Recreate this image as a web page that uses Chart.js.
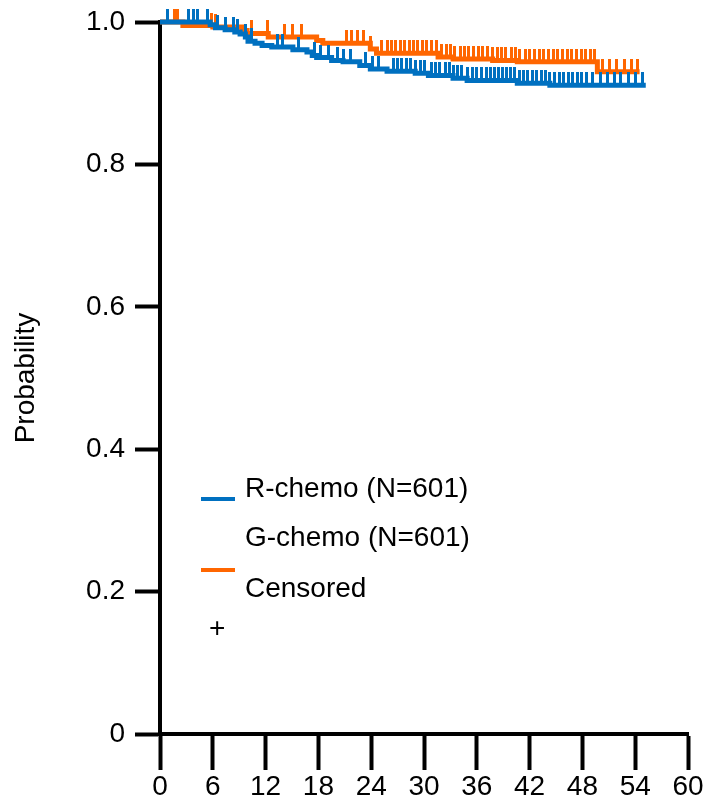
<!DOCTYPE html>
<html>
<head>
<meta charset="utf-8">
<script src="https://cdn.jsdelivr.net/npm/chart.js@4"></script>
<style>
  body { margin: 0; background: #fff; }
  #wrap { position: relative; width: 711px; height: 803px; }
  .lg { position: absolute; font: 28px "Liberation Sans", Arial, sans-serif; line-height: 28px; color: #000; white-space: nowrap; }
  .sw { position: absolute; width: 34px; height: 4px; }
</style>
</head>
<body>
<div id="wrap">
  <canvas id="km"></canvas>
  <div class="sw" style="left:201px; top:497px; background:#0070C0"></div>
  <div class="lg" style="left:245px; top:474px">R-chemo (N=601)</div>
  <div class="lg" style="left:245px; top:523px">G-chemo (N=601)</div>
  <div class="sw" style="left:201px; top:568px; background:#FF6600"></div>
  <div class="lg" style="left:245px; top:574px">Censored</div>
  <div class="lg" style="left:209px; top:614px">+</div>
</div>
<script>
// months on x, probability on y
const xTicks = [0, 6, 12, 18, 24, 30, 36, 42, 48, 54, 60]
const yTicks = [0, 0.2, 0.4, 0.6, 0.8, 1.0]

// R-chemo step curve
const rTimes = [0, 5.7, 6.3, 7.4, 8.5, 9.1, 9.7, 10.0, 10.8, 11.6, 12.7, 15.1, 16.7, 17.3, 17.8, 19.5, 20.8, 22.7, 23.9, 25.8, 29.0, 30.5, 33.3, 34.9, 40.6, 44.3, 55.2]
const rSurv  = [1.000, 0.996, 0.992, 0.989, 0.986, 0.983, 0.979, 0.973, 0.970, 0.967, 0.965, 0.961, 0.958, 0.953, 0.950, 0.946, 0.944, 0.939, 0.934, 0.931, 0.928, 0.925, 0.921, 0.918, 0.914, 0.911, 0.911]
const rCensor = [0.8, 3.2, 3.8, 4.3, 5.4, 6.5, 7.4, 8.3, 8.8, 9.7, 10.4, 13.4, 13.9, 15.7, 17.6, 18.2, 19.1, 20.2, 20.8, 21.6, 23.3, 24.2, 24.8,
  26.5, 27.0, 27.4, 28.0, 28.5, 29.0, 29.6, 30.1, 30.8, 31.3, 31.8, 32.4, 32.9, 33.4, 33.8, 34.3, 34.9, 35.5, 36.0, 36.5, 37.1, 37.6, 38.0,
  38.5, 38.9, 39.4, 39.8, 40.3, 40.8, 41.3, 41.8, 42.3, 42.8, 43.3, 43.8, 44.3, 44.8, 45.4, 45.9, 46.4, 46.9, 47.4, 47.9, 48.5, 49.1,
  50.0, 50.8, 51.6, 52.3, 53.2, 54.0, 54.8]

// G-chemo step curve
const gTimes = [0, 2.6, 6.0, 9.3, 9.9, 12.3, 17.8, 18.5, 23.9, 24.6, 31.6, 33.3, 37.8, 40.6, 49.7, 54.5]
const gSurv  = [1.000, 0.995, 0.993, 0.988, 0.984, 0.979, 0.974, 0.970, 0.962, 0.956, 0.951, 0.948, 0.946, 0.944, 0.930, 0.930]
const gCensor = [0.9, 1.7, 2.0, 5.9, 6.3, 10.4, 12.2, 14.2, 15.0, 16.1, 21.2, 21.8, 22.4, 23.1, 23.9, 25.2, 25.8,
  26.3, 26.8, 27.3, 27.8, 28.3, 28.8, 29.3, 29.8, 30.3, 30.9, 31.4, 32.0, 32.5, 33.0, 33.5, 34.1, 34.6, 35.1, 35.6, 36.2, 36.7,
  37.2, 37.8, 38.3, 38.8, 39.3, 39.9, 40.4, 40.9, 41.5, 42.0, 42.5, 43.1, 43.6, 44.1, 44.7, 45.2, 45.7, 46.3, 46.8, 47.3, 47.9,
  48.4, 48.9, 49.4, 50.3, 51.1, 51.9, 52.8, 53.6, 54.3]

const BLUE = "#0070C0"
const ORANGE = "#FF6600"
const FONT = { family: "'Liberation Sans', Arial, sans-serif", size: 28 }

function survAt(times, surv, t) {
  let s = surv[0]
  for (let i = 0; i < times.length; i++) {
    if (times[i] <= t) s = surv[i]
  }
  return s
}

// small upward tick used as the censor mark
function censorMark(color) {
  const c = document.createElement("canvas")
  c.width = 3
  c.height = 26
  const g = c.getContext("2d")
  g.fillStyle = color
  g.fillRect(0, 0, 3, 13)
  return c
}

function stepData(times, surv) {
  return times.map((t, i) => ({ x: t, y: surv[i] }))
}

function censorData(list, times, surv) {
  return list.map(t => ({ x: t, y: survAt(times, surv, t) }))
}

const ctx = document.getElementById("km").getContext("2d")

new Chart(ctx, {
  type: "line",
  data: {
    datasets: [
      {
        label: "R-chemo (N=601)",
        data: stepData(rTimes, rSurv),
        borderColor: BLUE,
        borderWidth: 5,
        stepped: true,
        pointRadius: 0,
        clip: false
      },
      {
        label: "R-chemo censored",
        type: "scatter",
        data: censorData(rCensor, rTimes, rSurv),
        pointStyle: censorMark(BLUE),
        pointRadius: 3,
        showLine: false,
        clip: false
      },
      {
        label: "G-chemo (N=601)",
        data: stepData(gTimes, gSurv),
        borderColor: ORANGE,
        borderWidth: 5,
        stepped: true,
        pointRadius: 0,
        clip: false
      },
      {
        label: "G-chemo censored",
        type: "scatter",
        data: censorData(gCensor, gTimes, gSurv),
        pointStyle: censorMark(ORANGE),
        pointRadius: 3,
        showLine: false,
        clip: false
      }
    ]
  },
  options: {
    responsive: true,
    maintainAspectRatio: false,
    devicePixelRatio: 1,
    animation: false,
    layout: { padding: { top: 22, right: 23, bottom: 0, left: 0 } },
    plugins: {
      legend: { display: false },
      tooltip: { enabled: false }
    },
    scales: {
      x: {
        type: "linear",
        min: 0,
        max: 60,
        afterBuildTicks: s => { s.ticks = xTicks.map(v => ({ value: v })) },
        afterFit: s => { s.height = 69 },
        border: { color: "#000", width: 4 },
        grid: { drawOnChartArea: false, drawTicks: true, tickLength: 36, tickWidth: 4, tickColor: "#000" },
        ticks: { color: "#000", font: FONT, padding: 0, maxRotation: 0, autoSkip: false }
      },
      y: {
        min: 0,
        max: 1,
        afterBuildTicks: s => { s.ticks = yTicks.map(v => ({ value: v })) },
        afterFit: s => {
          s.width = 160
          s.paddingTop = 0
          s.paddingBottom = 0
        },
        border: { color: "#000", width: 4 },
        grid: { drawOnChartArea: false, drawTicks: true, tickLength: 25, tickWidth: 4, tickColor: "#000" },
        ticks: {
          color: "#000",
          font: FONT,
          padding: 10,
          callback: v => (v === 0 ? "0" : v.toFixed(1))
        },
        title: {
          display: true,
          text: "Probability",
          color: "#000",
          font: FONT,
          padding: { top: 9, bottom: 0 }
        }
      }
    }
  }
})
</script>
</body>
</html>
